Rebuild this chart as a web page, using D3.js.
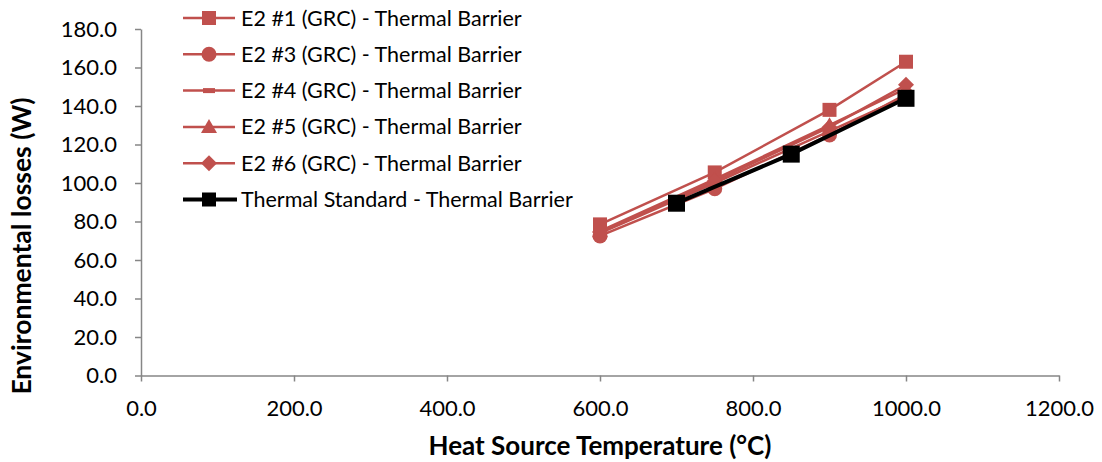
<!DOCTYPE html>
<html>
<head>
<meta charset="utf-8">
<script src="https://cdn.jsdelivr.net/npm/d3@7"></script>
<style>
  body { margin: 0; background: #fff; }
  text { font-family: Lato, "Open Sans", sans-serif; fill: #000; }
</style>
</head>
<body>
<script>
// datos
var tempE2 = [600, 750, 900, 1000]
var tempStd = [700, 850, 1000]
var e2_1 = [78.5, 105.5, 138.0, 163.0]
var e2_3 = [72.5, 97.0, 125.0, 146.0]
var e2_4 = [74.0, 100.0, 127.0, 145.0]
var e2_5 = [75.0, 102.0, 130.0, 149.0]
var e2_6 = [74.5, 101.0, 129.0, 151.0]
var standard = [89.5, 115.0, 144.0]
var xTicks = [0, 200, 400, 600, 800, 1000, 1200]
var yTicks = [0, 20, 40, 60, 80, 100, 120, 140, 160, 180]

var rojo = "#C0504D"

var series = [
  {name: "E2 #1 (GRC) - Thermal Barrier", x: tempE2, y: e2_1, marker: "square", color: rojo},
  {name: "E2 #3 (GRC) - Thermal Barrier", x: tempE2, y: e2_3, marker: "circle", color: rojo},
  {name: "E2 #4 (GRC) - Thermal Barrier", x: tempE2, y: e2_4, marker: "dash", color: rojo},
  {name: "E2 #5 (GRC) - Thermal Barrier", x: tempE2, y: e2_5, marker: "triangle", color: rojo},
  {name: "E2 #6 (GRC) - Thermal Barrier", x: tempE2, y: e2_6, marker: "diamond", color: rojo},
  {name: "Thermal Standard - Thermal Barrier", x: tempStd, y: standard, marker: "bigsquare", color: "#000"}
]

var svg = d3.select("body").append("svg")
  .attr("width", 1102)
  .attr("height", 462)

var x = d3.scaleLinear().domain([0, 1200]).range([141, 1059])
var y = d3.scaleLinear().domain([0, 180]).range([375.5, 29])

var gris = "#868686"

// eje y
var ejeY = svg.append("g")
  .attr("transform", "translate(" + x(0) + ",0)")
  .call(d3.axisLeft(y).tickValues(yTicks).tickFormat(d3.format(".1f")).tickSize(6).tickSizeOuter(0))
ejeY.select(".domain").attr("stroke", gris).attr("stroke-width", 1.5)
ejeY.selectAll(".tick line").attr("stroke", gris).attr("stroke-width", 1.5)
ejeY.selectAll(".tick text").attr("x", -24).style("font-size", "22px").style("font-family", "Lato, sans-serif").attr("fill", "#000")

// eje x
var ejeX = svg.append("g")
  .attr("transform", "translate(0," + y(0) + ")")
  .call(d3.axisBottom(x).tickValues(xTicks).tickFormat(d3.format(".1f")).tickSize(6).tickSizeOuter(0))
ejeX.select(".domain").attr("stroke", gris).attr("stroke-width", 1.5)
ejeX.selectAll(".tick line").attr("stroke", gris).attr("stroke-width", 1.5)
ejeX.selectAll(".tick text").attr("y", 25).style("font-size", "22px").style("font-family", "Lato, sans-serif").attr("fill", "#000")

// titulos
svg.append("text")
  .attr("x", 600).attr("y", 455)
  .attr("text-anchor", "middle")
  .style("font-size", "26px").style("font-weight", "bold")
  .text("Heat Source Temperature (°C)")

svg.append("text")
  .attr("transform", "translate(31,246) rotate(-90)")
  .attr("text-anchor", "middle")
  .style("font-size", "26.5px").style("font-weight", "bold")
  .text("Environmental losses (W)")

function dibujarMarcador(g, tipo, color) {
  if (tipo == "square") {
    g.append("rect").attr("x", -7).attr("y", -7).attr("width", 14).attr("height", 14).attr("fill", color)
  } else if (tipo == "bigsquare") {
    g.append("rect").attr("x", -8.5).attr("y", -8.5).attr("width", 17).attr("height", 17).attr("fill", color)
  } else if (tipo == "circle") {
    g.append("circle").attr("r", 7.5).attr("fill", color)
  } else if (tipo == "dash") {
    g.append("rect").attr("x", -6).attr("y", -2.5).attr("width", 12).attr("height", 5).attr("fill", color)
  } else if (tipo == "triangle") {
    g.append("path").attr("d", "M0,-8L8,6L-8,6Z").attr("fill", color)
  } else if (tipo == "diamond") {
    g.append("path").attr("d", "M0,-8L8,0L0,8L-8,0Z").attr("fill", color)
  }
}

var linea = d3.line().x(d => x(d[0])).y(d => y(d[1]))

series.forEach(function(s) {
  var pts = s.x.map((v, i) => [v, s.y[i]])
  svg.append("path")
    .attr("d", linea(pts))
    .attr("fill", "none")
    .attr("stroke", s.color)
    .attr("stroke-width", s.marker == "bigsquare" ? 4 : 2.5)
  pts.forEach(function(p) {
    var g = svg.append("g").attr("transform", "translate(" + x(p[0]) + "," + y(p[1]) + ")")
    dibujarMarcador(g, s.marker, s.color)
  })
})

// leyenda
var leyenda = svg.append("g")
series.forEach(function(s, i) {
  var ly = 18 + i * 36.3
  var g = leyenda.append("g").attr("transform", "translate(0," + ly + ")")
  g.append("line")
    .attr("x1", 183).attr("x2", s.marker == "bigsquare" ? 237 : 235)
    .attr("stroke", s.color)
    .attr("stroke-width", s.marker == "bigsquare" ? 4 : 2.5)
  var m = g.append("g").attr("transform", "translate(209,0)")
  dibujarMarcador(m, s.marker == "bigsquare" ? "square" : s.marker, s.color)
  g.append("text")
    .attr("x", 241)
    .attr("y", 7.5)
    .style("font-size", "21.5px")
    .text(s.name)
})
</script>
</body>
</html>
